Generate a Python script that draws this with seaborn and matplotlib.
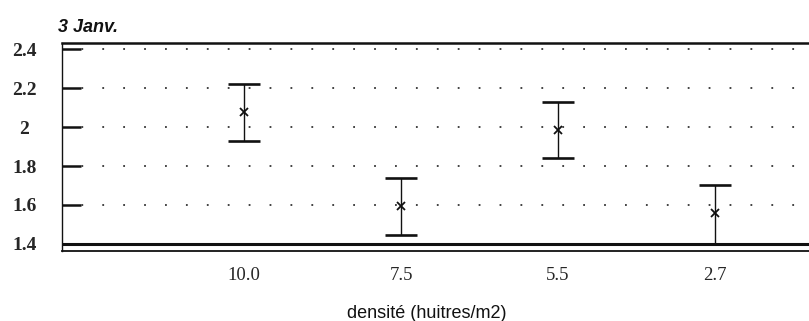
import numpy as np
import pandas as pd
import matplotlib
matplotlib.use("Agg")
import matplotlib.pyplot as plt
import seaborn as sns

# Mean and range per stocking density (3 January)
densites = ["10.0", "7.5", "5.5", "2.7"]
moyennes = [2.079, 1.593, 1.985, 1.557]
bornes_basses = [1.927, 1.445, 1.840, 1.400]
bornes_hautes = [2.220, 1.737, 2.128, 1.702]

y_ticks = [1.4, 1.6, 1.8, 2.0, 2.2, 2.4]
y_tick_labels = ["1.4", "1.6", "1.8", "2", "2.2", "2.4"]
titre = "3 Janv."
x_titre = "densité (huitres/m2)"

df = pd.DataFrame({"densite": densites, "moyenne": moyennes,
                   "bas": bornes_basses, "haut": bornes_hautes})

sns.set_style("white")
W, H = 809, 321
fig = plt.figure(figsize=(W / 100, H / 100), dpi=100)
ax = fig.add_axes([62 / W, 1 - 250.7 / H, (W - 62) / W, 207.4 / H])

ink = "#111111"

sns.pointplot(data=df, x="densite", y="moyenne", order=densites,
              errorbar=None, linestyle="none", marker="x",
              color=ink, markersize=5.5, markeredgewidth=1.3, ax=ax, zorder=4)

pos = np.arange(len(df))
ax.errorbar(pos, df["moyenne"],
            yerr=[df["moyenne"] - df["bas"], df["haut"] - df["moyenne"]],
            fmt="none", ecolor=ink, elinewidth=1.0, capsize=11.4,
            capthick=1.9, zorder=3)

# axis ranges
ax.set_xlim(-1.162, 3.599)
ax.set_ylim(1.365, 2.431)

# dotted horizontal guides
for v in y_ticks[1:]:
    ax.axhline(v, color="#333333", lw=1.3,
               linestyle=(0.84, (1.0, 10.58)), zorder=1)
# heavy baseline at the bottom tick
ax.axhline(y_ticks[0], color=ink, lw=2.2, zorder=2)

ax.set_yticks(y_ticks)
ax.set_yticklabels(y_tick_labels, family="Liberation Serif",
                   fontweight="bold", fontsize=14)
plt.setp(ax.get_yticklabels(), ha="center")
ax.tick_params(axis="y", direction="in", length=13.7, width=1.8,
               color=ink, pad=27, left=True)
ax.set_xticks(pos)
ax.set_xticklabels(densites, family="Liberation Serif", fontsize=13.5)
ax.tick_params(axis="x", length=0, pad=11.5)

ax.set_xlabel(x_titre, family="Liberation Sans", fontsize=13, color=ink)
ax.xaxis.set_label_coords((426.5 - 62) / (W - 62), -54.3 / 207.4)
ax.set_ylabel("")

for side in ["right"]:
    ax.spines[side].set_visible(False)
ax.spines["left"].set_linewidth(1.0)
ax.spines["top"].set_linewidth(1.8)
ax.spines["bottom"].set_linewidth(1.3)
for s in ax.spines.values():
    s.set_color(ink)

fig.text(58 / W, 1 - 32 / H, titre, family="Liberation Sans",
         fontweight="bold", fontstyle="italic", fontsize=13,
         va="baseline", ha="left", color=ink)

fig.savefig("out.png", dpi=100, facecolor="white")
